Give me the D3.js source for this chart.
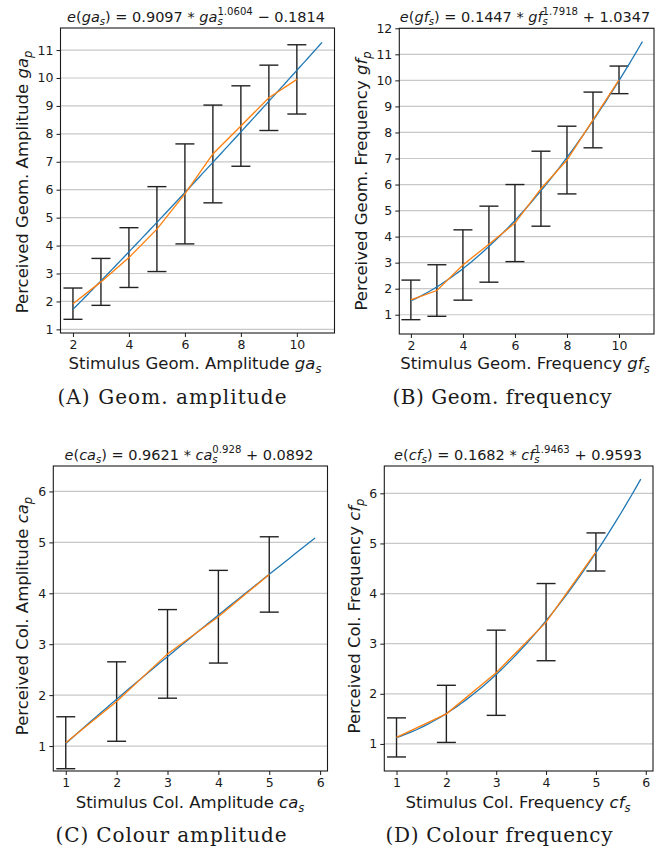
<!DOCTYPE html>
<html>
<head>
<meta charset="utf-8">
<script src="https://cdn.jsdelivr.net/npm/d3@7"></script>
<style>
  body { margin: 0; background: #fff; }
  svg { display: block; }
  text { white-space: pre; }
</style>
</head>
<body>
<svg id="fig" width="656" height="854"></svg>
<script>
// ---- data: stimulus levels, perceived means and standard deviations ----
const stimA = [2, 3, 4, 5, 6, 7, 8, 9, 10];
const meanA = [1.92, 2.70, 3.57, 4.59, 5.85, 7.28, 8.28, 9.29, 9.95];
const sdA   = [0.56, 0.84, 1.07, 1.52, 1.79, 1.75, 1.44, 1.17, 1.24];

const stimB = [2, 3, 4, 5, 6, 7, 8, 9, 10];
const meanB = [1.57, 1.93, 2.91, 3.71, 4.52, 5.84, 6.94, 8.48, 10.02];
const sdB   = [0.76, 0.99, 1.35, 1.46, 1.48, 1.44, 1.30, 1.07, 0.53];

const stimC = [1, 2, 3, 4, 5];
const meanC = [1.065, 1.874, 2.81, 3.54, 4.37];
const sdC   = [0.51, 0.78, 0.87, 0.91, 0.74];

const stimD = [1, 2, 3, 4, 5];
const meanD = [1.13, 1.60, 2.42, 3.43, 4.83];
const sdD   = [0.39, 0.57, 0.85, 0.77, 0.38];

// power-law fits e(x) = a * x^b + c  ->  [a, b, c]
const fitA = [0.9097, 1.0604, -0.1814];
const fitB = [0.1447, 1.7918, 1.0347];
const fitC = [0.9621, 0.928, 0.0892];
const fitD = [0.1682, 1.9463, 0.9593];
// stimulus span over which each fit is evaluated (step 0.1)
const fitSpanGeom = [2, 10.9];
const fitSpanCol  = [1, 5.9];

// tick labels
const xTicksGeom = [2, 4, 6, 8, 10];
const yTicksA    = [1, 2, 3, 4, 5, 6, 7, 8, 9, 10, 11];
const yTicksB    = [1, 2, 3, 4, 5, 6, 7, 8, 9, 10, 11, 12];
const xTicksCol  = [1, 2, 3, 4, 5, 6];
const yTicksCol  = [1, 2, 3, 4, 5, 6];

// captions and labels
const captions = ["(A) Geom. amplitude", "(B) Geom. frequency", "(C) Colour amplitude", "(D) Colour frequency"];
const symbols  = ["ga", "gf", "ca", "cf"];
const quantity = ["Geom. Amplitude", "Geom. Frequency", "Col. Amplitude", "Col. Frequency"];

// ---- layout ----
const panels = [
  { stim: stimA, mean: meanA, sd: sdA, fit: fitA, span: fitSpanGeom, xt: xTicksGeom, yt: yTicksA,
    box: [60.5, 28, 334.5, 333], xdom: [1.555, 11.345], ydom: [0.87, 11.79],
    title: [196, 22], xlab: [195, 369], ylab: [28, 182], cap: [172, 404], capW: 229 },
  { stim: stimB, mean: meanB, sd: sdB, fit: fitB, span: fitSpanGeom, xt: xTicksGeom, yt: yTicksB,
    box: [399.3, 28.3, 654, 334], xdom: [1.555, 11.345], ydom: [0.26, 12.0],
    title: [525, 22], xlab: [525, 369], ylab: [367, 181], cap: [502, 404], capW: 219 },
  { stim: stimC, mean: meanC, sd: sdC, fit: fitC, span: fitSpanCol, xt: xTicksCol, yt: yTicksCol,
    box: [53.3, 466, 327.5, 771], xdom: [0.755, 6.145], ydom: [0.51, 6.5],
    title: [189, 460], xlab: [190, 808], ylab: [28, 616], cap: [171, 842], capW: 231 },
  { stim: stimD, mean: meanD, sd: sdD, fit: fitD, span: fitSpanCol, xt: xTicksCol, yt: yTicksCol,
    box: [384.3, 466, 653, 771], xdom: [0.755, 6.145], ydom: [0.46, 6.545],
    title: [518, 460], xlab: [518, 808], ylab: [360, 616], cap: [499, 842], capW: 227 }
];

const SANS = "'DejaVu Sans', sans-serif";
const SERIF = "'DejaVu Serif', serif";
const FS_TICK = 12.5, FS_LAB = 16.5, FS_TITLE = 14.5, FS_CAP = 20;
const BLUE = "#1f77b4", ORANGE = "#ff7f0e", ERR = "#222222", GRID = "#c8c8c8";

const svg = d3.select("#fig");

// Writes mathtext-like runs into a <text>: roman, italic, subscript, superscript
function mathText(sel, parts, fs) {
  let shift = 0, lastSub = null;
  parts.forEach(([t, k]) => {
    const ts = sel.append("tspan").text(t);
    let target = 0;
    if (k === "i") ts.attr("font-style", "italic");
    if (k === "sub") {
      ts.attr("font-style", "italic").attr("font-size", fs * 0.7);
      target = fs * 0.22;
    }
    if (k === "sup") {
      ts.attr("font-size", fs * 0.7);
      target = -fs * 0.45;
      if (lastSub) ts.attr("dx", -lastSub.node().getComputedTextLength());
    }
    ts.attr("dy", target - shift);
    shift = target;
    lastSub = k === "sub" ? ts : null;
  });
}

function fmt(v) { return String(Math.abs(v)); }

panels.forEach((p, i) => {
  const [L, T, R, B] = p.box;
  const x = d3.scaleLinear().domain(p.xdom).range([L, R]);
  const y = d3.scaleLinear().domain(p.ydom).range([B, T]);
  const g = svg.append("g");

  // horizontal grid
  g.append("g").selectAll("line").data(p.yt).join("line")
    .attr("x1", L).attr("x2", R)
    .attr("y1", d => y(d)).attr("y2", d => y(d))
    .attr("stroke", GRID).attr("stroke-width", 1.2);

  // error bars: mean ± sd
  const rows = p.stim.map((s, j) => ({ s, m: p.mean[j], sd: p.sd[j] }));
  const eb = g.append("g").attr("stroke", ERR).attr("stroke-width", 1.4);
  eb.selectAll("line.v").data(rows).join("line").attr("class", "v")
    .attr("x1", d => x(d.s)).attr("x2", d => x(d.s))
    .attr("y1", d => y(d.m - d.sd)).attr("y2", d => y(d.m + d.sd));
  [1, -1].forEach(sign => {
    eb.selectAll("line.c" + sign).data(rows).join("line").attr("class", "c" + sign)
      .attr("x1", d => x(d.s) - 9.5).attr("x2", d => x(d.s) + 9.5)
      .attr("y1", d => y(d.m + sign * d.sd)).attr("y2", d => y(d.m + sign * d.sd));
  });

  // fitted curve
  const [a, b, c] = p.fit;
  const fitPts = d3.range(p.span[0], p.span[1] + 1e-9, 0.1).map(s => [s, a * Math.pow(s, b) + c]);
  const line = d3.line().x(d => x(d[0])).y(d => y(d[1]));
  g.append("path").datum(fitPts).attr("d", line)
    .attr("fill", "none").attr("stroke", BLUE).attr("stroke-width", 1.3);

  // observed means
  g.append("path").datum(rows.map(r => [r.s, r.m])).attr("d", line)
    .attr("fill", "none").attr("stroke", ORANGE).attr("stroke-width", 1.3);

  // frame
  g.append("rect").attr("x", L).attr("y", T).attr("width", R - L).attr("height", B - T)
    .attr("fill", "none").attr("stroke", "#1a1a1a").attr("stroke-width", 1.1);

  // axes
  const ax = g.append("g").attr("transform", `translate(0,${B})`)
    .call(d3.axisBottom(x).tickValues(p.xt).tickFormat(d3.format("d"))
      .tickSize(4).tickSizeOuter(0).tickPadding(3));
  const ay = g.append("g").attr("transform", `translate(${L},0)`)
    .call(d3.axisLeft(y).tickValues(p.yt).tickFormat(d3.format("d"))
      .tickSize(4).tickSizeOuter(0).tickPadding(3));
  [ax, ay].forEach(a => {
    a.select(".domain").remove();
    a.attr("font-family", SANS).attr("font-size", FS_TICK);
    a.selectAll("line").attr("stroke", "#1a1a1a").attr("stroke-width", 1);
    a.selectAll("text").attr("fill", "#1a1a1a");
  });

  const sym = symbols[i];
  // title with fit formula
  const tt = g.append("text").attr("x", p.title[0]).attr("y", p.title[1])
    .attr("text-anchor", "middle").attr("font-family", SANS).attr("font-size", FS_TITLE).attr("fill", "#1a1a1a");
  mathText(tt, [
    ["e", "i"], ["(", "r"], [sym, "i"], ["s", "sub"],
    [") = " + fmt(a) + " * ", "r"], [sym, "i"], ["s", "sub"], [fmt(b), "sup"],
    [(c < 0 ? " \u2212 " : " + ") + fmt(c), "r"]
  ], FS_TITLE);

  // x label
  const xl = g.append("text").attr("x", p.xlab[0]).attr("y", p.xlab[1])
    .attr("text-anchor", "middle").attr("font-family", SANS).attr("font-size", FS_LAB).attr("fill", "#1a1a1a");
  mathText(xl, [["Stimulus " + quantity[i] + " ", "r"], [sym, "i"], ["s", "sub"]], FS_LAB);

  // y label
  const yl = g.append("text")
    .attr("transform", `translate(${p.ylab[0]},${p.ylab[1]}) rotate(-90)`)
    .attr("text-anchor", "middle").attr("font-family", SANS).attr("font-size", FS_LAB).attr("fill", "#1a1a1a");
  mathText(yl, [["Perceived " + quantity[i] + " ", "r"], [sym, "i"], ["p", "sub"]], FS_LAB);

  // caption
  g.append("text").attr("x", p.cap[0]).attr("y", p.cap[1])
    .attr("text-anchor", "middle").attr("font-family", SERIF).attr("font-size", FS_CAP)
    .attr("textLength", p.capW).attr("fill", "#1a1a1a").text(captions[i]);
});
</script>
</body>
</html>
